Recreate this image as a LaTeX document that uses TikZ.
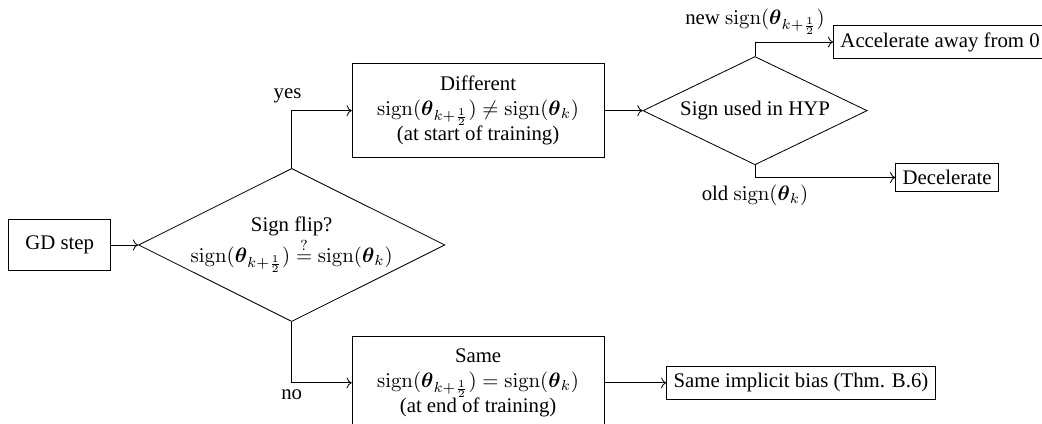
\documentclass[tikz,border=0pt]{standalone}
\usepackage{amsmath}
\usepackage{amssymb}
\usepackage[no-math]{fontspec}
\setmainfont{Liberation Serif}
\usepackage{tikz}
\usetikzlibrary{arrows.meta,shapes,calc}

\newcommand{\signop}{\operatorname{sign}}
\newcommand{\thhalf}{\boldsymbol{\theta}_{k+\frac{1}{2}}}
\newcommand{\thk}{\boldsymbol{\theta}_k}

\begin{document}
\begin{tikzpicture}
            \tikzset{block/.style = {draw, align=center, inner xsep=12pt, inner ysep=6pt}}
            \tikzset{decision/.style = {draw, diamond, aspect=2, align=center, inner sep=-0.5pt}}
            \tikzset{result/.style = {draw}}
            \tikzset{edge/.style = {->}}

            \useasboundingbox (0,0) rectangle (17.61,-7.15);

            % nodes
            \node[block, inner sep=8pt] (gd) at (1.01,-4.14) {GD step};
            \node[decision] (flip) at (4.93,-4.14) {Sign flip?\\ $\signop(\thhalf) \stackrel{?}{=} \signop(\thk)$};
            \node[block] (diff) at (8.08,-1.87) {Different\\ $\signop(\thhalf) \neq \signop(\thk)$\\ (at start of training)};
            \node[block] (same) at (8.08,-6.47) {Same\\ $\signop(\thhalf) = \signop(\thk)$\\ (at end of training)};
            \node[decision, minimum width=3.79cm, minimum height=1.83cm] (hyp) at (12.76,-1.87) {Sign used in HYP};
            \node[result, anchor=west] (acc) at (14.08,-0.71) {Accelerate away from 0};
            \node[result, anchor=west] (dec) at (15.13,-3.0) {Decelerate};
            \node[result, anchor=west] (bias) at (11.26,-6.47) {Same implicit bias (Thm. B.6)};

            % edges
            \draw[edge] (gd) -- (flip);
            \draw[edge] (flip.north) |- node[above, pos=0.5, xshift=-2pt] {yes} (diff.west);
            \draw[edge] (flip.south) |- node[below, pos=0.5] {no} (same.west);
            \draw[edge] (diff) -- (hyp);
            \draw[edge] (hyp.north) |- node[above, pos=0.5] {new $\signop(\thhalf)$} (acc.west);
            \draw[edge] (hyp.south) |- node[below, pos=0.5] {old $\signop(\thk)$} (dec.west);
            \draw[edge] (same) -- (bias);

          \end{tikzpicture}
\end{document}
